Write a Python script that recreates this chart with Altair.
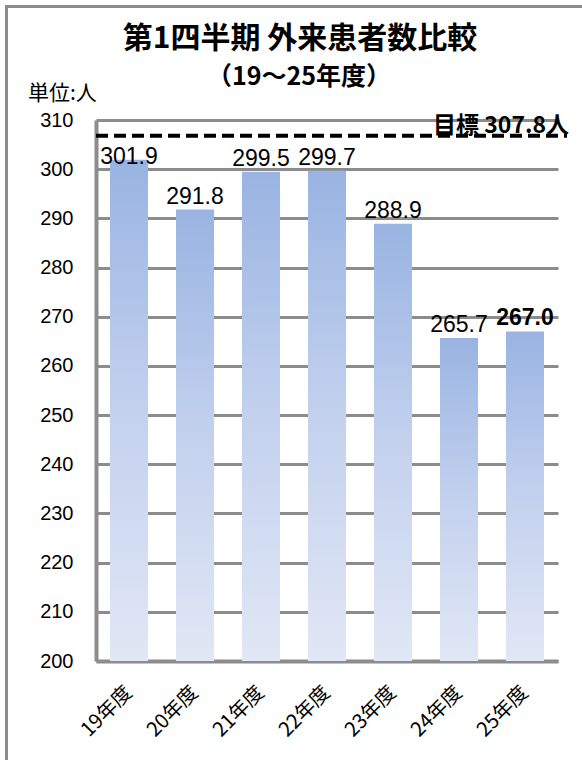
import altair as alt
import pandas as pd

# ---- data ----
years = ["19年度", "20年度", "21年度", "22年度", "23年度", "24年度", "25年度"]
values = [301.9, 291.8, 299.5, 299.7, 288.9, 265.7, 267.0]
target = 307.8
y_ticks = [200, 210, 220, 230, 240, 250, 260, 270, 280, 290, 300, 310]

title_text = "第1四半期 外来患者数比較"
subtitle_text = "（19～25年度）"
unit_text = "単位:人"
target_text = "目標 307.8人"

df = pd.DataFrame({"year": years, "value": values})
df_target = pd.DataFrame({"target": [target], "label": [target_text]})

W, H = 462, 541
GRAY = "#8c8c8c"

x_enc = alt.X(
    "year:N",
    sort=years,
    scale=alt.Scale(paddingInner=0.424, paddingOuter=0.212),
    axis=alt.Axis(
        title=None, labelAngle=315, labelAlign="right", labelBaseline="middle",
        labelFont="Noto Sans CJK JP", labelFontSize=20, labelColor="black",
        labelPadding=28, ticks=False, domainColor=GRAY, domainWidth=4, grid=False,
    ),
)
y_scale = alt.Scale(domain=[200, 310], nice=False, zero=False)
y_axis = alt.Axis(
    values=y_ticks, title=None, ticks=False, labelFont="Liberation Sans",
    labelFontSize=20, labelColor="black", labelPadding=23, grid=True,
    gridColor=GRAY, gridWidth=3, domainColor=GRAY, domainWidth=4,
)

base = alt.Chart(df)

border = alt.Chart(pd.DataFrame({"a": [0]})).mark_rect(
    fillOpacity=0, stroke=GRAY, strokeWidth=3
).encode(
    x=alt.value(-89.5), x2=alt.value(600), y=alt.value(-113.5), y2=alt.value(700)
)

gradient = alt.LinearGradient(
    gradient="linear",
    stops=[
        alt.GradientStop(color="#99b4e2", offset=0),
        alt.GradientStop(color="#c3d1ee", offset=0.5),
        alt.GradientStop(color="#e1e7f5", offset=1),
    ],
    x1=0, x2=0, y1=0, y2=1,
)

bars = base.mark_bar(color=gradient).encode(
    x=x_enc,
    y=alt.Y("value:Q", scale=y_scale, axis=y_axis),
    y2=alt.datum(200),
)

rule = alt.Chart(df_target).mark_rule(
    color="black", strokeWidth=4, strokeDash=[12, 6]
).encode(
    y=alt.Y("target:Q", scale=y_scale),
    x=alt.value(0), x2=alt.value(471),
    yOffset=alt.value(5),
)

label_base = base.transform_calculate(ly="min(datum.value, 299.8)")

labels = label_base.transform_filter(alt.datum.year != "25年度").mark_text(
    font="Liberation Sans", fontSize=23, color="black", baseline="alphabetic", dy=-6
).encode(
    x=x_enc,
    y=alt.Y("ly:Q", scale=y_scale),
    text=alt.Text("value:Q", format=".1f"),
)

labels_bold = label_base.transform_filter(alt.datum.year == "25年度").mark_text(
    font="Liberation Sans", fontSize=23, fontWeight="bold", color="black",
    baseline="alphabetic", dy=-6
).encode(
    x=x_enc,
    y=alt.Y("ly:Q", scale=y_scale),
    text=alt.Text("value:Q", format=".1f"),
)

target_label = alt.Chart(df_target).mark_text(
    font="Noto Sans CJK JP", fontSize=23, fontWeight="bold", color="black",
    align="right", baseline="alphabetic", dy=2
).encode(
    y=alt.Y("target:Q", scale=y_scale),
    x=alt.value(473),
    text="label:N",
)

def deco_text(txt, x, y, size, weight="normal", align="center"):
    return alt.Chart(pd.DataFrame({"t": [txt]})).mark_text(
        font="Noto Sans CJK JP", fontSize=size, fontWeight=weight, color="black",
        align=align, baseline="middle"
    ).encode(x=alt.value(x), y=alt.value(y), text="t:N")

title = deco_text(title_text, 204, -81, 30, "bold")
subtitle = deco_text(subtitle_text, 203, -43, 25, "bold")
unit = deco_text(unit_text, -68, -26, 21, "normal", "left")

chart = alt.layer(
    border, bars, rule, labels, labels_bold, target_label, title, subtitle, unit
).properties(
    width=W, height=H,
    padding={"left": 96, "top": 120, "right": 24, "bottom": 99},
    autosize=alt.AutoSizeParams(type="none"),
    background="white",
).configure_view(strokeWidth=0)

chart.save("out.html", embed_options={"renderer": "svg", "actions": False})
